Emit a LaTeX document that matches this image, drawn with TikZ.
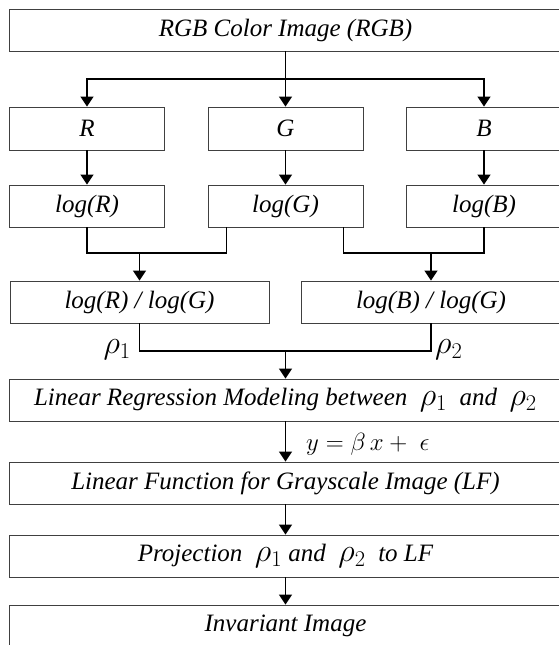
\documentclass[tikz,border=0pt]{standalone}
\usepackage{fontspec}
\usepackage{graphicx}
\setmainfont{Liberation Serif}
\usetikzlibrary{positioning,arrows.meta}

\newcommand{\rhoa}{\scalebox{1.3}{$\rho_1$}}
\newcommand{\rhob}{\scalebox{1.3}{$\rho_2$}}

\tikzset{
  box/.style={draw=black!75, line width=0.9pt, inner sep=0pt, minimum height=42pt,
    font=\itshape\fontsize{25}{29}\selectfont},
  small/.style={box, minimum width=155pt},
  half/.style={box, minimum width=260pt},
  wide/.style={box, minimum width=552pt},
  flow/.style={line width=1.4pt, -{Triangle[width=13pt,length=10pt]}},
  line/.style={line width=1.4pt},
  label/.style={font=\fontsize{25}{29}\selectfont, inner sep=0pt}
}

\begin{document}
\begin{tikzpicture}[x=1pt,y=-1pt]
\useasboundingbox (0,0) rectangle (559,645);
\clip (0,0) rectangle (559,645);

\node[wide](rgb) at (285.5,30) {RGB Color Image (RGB)};
\node[small, minimum height=43pt](r) at (87,128.5) {R};
\node[small, minimum height=43pt](g) at (285.5,128.5) {G};
\node[small, minimum height=43pt](b) at (484,128.5) {B};
\node[small](logr) at (87,206) {log(R)};
\node[small](logg) at (285.5,206) {log(G)};
\node[small](logb) at (484,206) {log(B)};
\node[half, minimum width=259pt](ratior) at (139.5,302) {log(R) / log(G)};
\node[half](ratiob) at (431,302) {log(B) / log(G)};
\node[wide](regr) at (285.5,400) {Linear Regression Modeling between \ \rhoa\ \ and \ \rhob};
\node[wide](lf) at (285.5,483) {Linear Function for Grayscale Image (LF)};
\node[wide](proj) at (285.5,556) {Projection \ \rhoa\ and \ \rhob\ \ to LF};
\node[wide](inv) at (285.5,626) {Invariant Image};

\coordinate (split) at (285.5,79);
\coordinate (mergel) at (139.5,253);
\coordinate (merger) at (431,253);
\coordinate (rho) at (285.5,351);

\draw[line] (rgb) -- (split);
\draw[flow] (split) -| (r);
\draw[flow] (split) -- (g);
\draw[flow] (split) -| (b);
\draw[flow] (r) -- (logr);
\draw[flow] (g) -- (logg);
\draw[flow] (b) -- (logb);

\draw[line] (logr) |- (mergel) -| ([xshift=19pt]logg.south west);
\draw[flow] (mergel) -- (ratior);
\draw[line] ([xshift=-20pt]logg.south east) |- (merger) -| (logb);
\draw[flow] (merger) -- (ratiob);

\draw[line] (ratior) |- (rho) -| (ratiob);
\draw[flow] (rho) -- (regr);
\node[label, anchor=east](rhoa) at (131,350) {\rhoa};
\node[label, anchor=west](rhob) at (435,350) {\rhob};

\draw[flow] (regr) -- (lf);
\node[label, font=\fontsize{23}{27}\selectfont, anchor=west](eq) at (306,444) {$y=\beta\,x+\;\epsilon$};
\draw[flow] (lf) -- (proj);
\draw[flow] (proj) -- (inv);
\end{tikzpicture}
\end{document}
